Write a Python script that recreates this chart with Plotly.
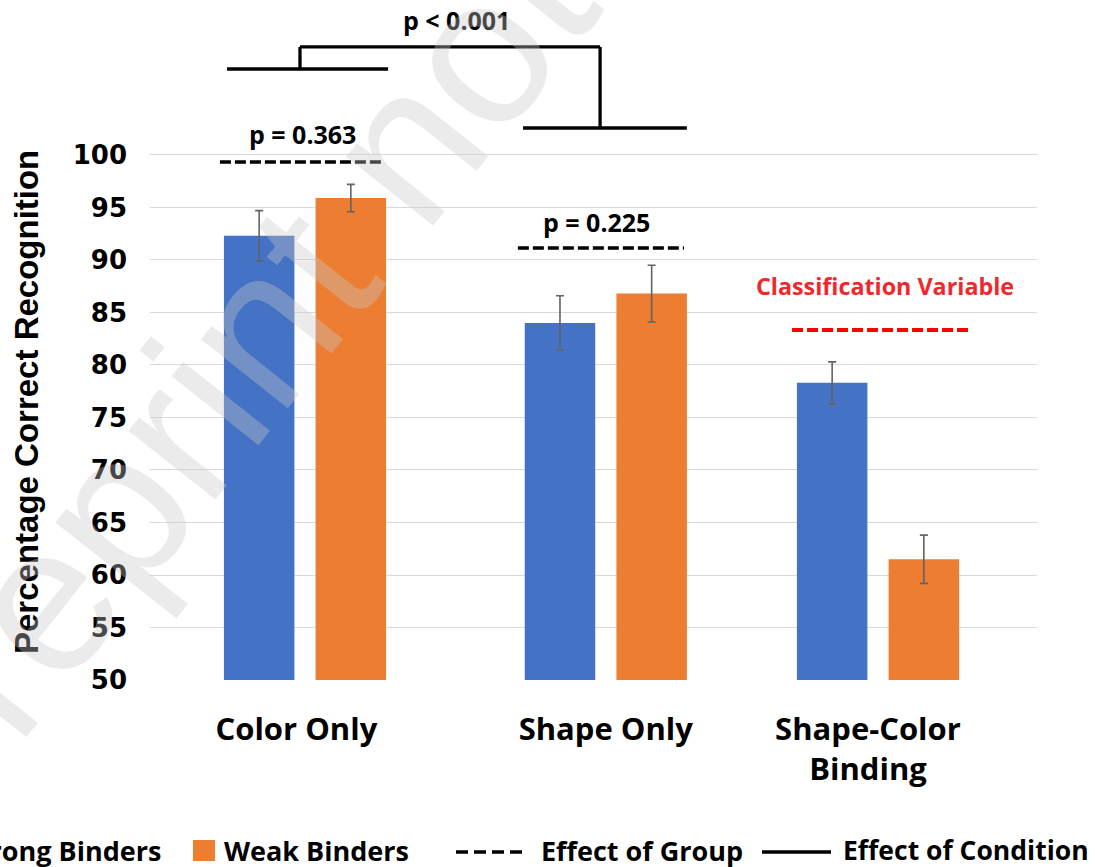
import plotly.graph_objects as go

# ---------------- data ----------------
categories = ["Color Only", "Shape Only", "Shape-Color<br>Binding"]
strong_binders = [92.3, 84.0, 78.3]
strong_err = [2.4, 2.6, 2.0]
weak_binders = [95.9, 86.8, 61.5]
weak_err = [1.3, 2.7, 2.3]
y_ticks = [50, 55, 60, 65, 70, 75, 80, 85, 90, 95, 100]

# ---------------- layout helpers ----------------
W, H = 1095, 867
ML, MR, MT, MB = 150, 58, 0, 187
group_pos = [0.0, 1.05, 2.0]          # category centres on the x axis
label_pos = [-0.03, 1.05, 1.965]      # where the category labels sit
X_RANGE = [-0.541, 2.555]
Y_RANGE = [50, 114.76]

BLUE = "#4472C4"
ORANGE = "#ED7D31"
ERR = "#636363"

def px_x(px):   # pixel -> paper x
    return (px - ML) / (W - ML - MR)

def px_y(py):   # pixel -> paper y
    return (H - MB - py) / (H - MB - MT)

fig = go.Figure()
fig.add_trace(go.Bar(
    name="Strong Binders", x=group_pos, y=strong_binders,
    width=0.246, offset=-0.283, marker=dict(color=BLUE, line=dict(width=0)),
    error_y=dict(type="data", array=strong_err, color=ERR, thickness=1.6, width=4),
    showlegend=False))
fig.add_trace(go.Bar(
    name="Weak Binders", x=group_pos, y=weak_binders,
    width=0.246, offset=0.037, marker=dict(color=ORANGE, line=dict(width=0)),
    error_y=dict(type="data", array=weak_err, color=ERR, thickness=1.6, width=4),
    showlegend=False))

shapes = []
def line(x0, y0, x1, y1, color="black", width=3.3, dash="solid", xref="x", yref="y"):
    shapes.append(dict(type="line", x0=x0, y0=y0, x1=x1, y1=y1, xref=xref, yref=yref,
                       line=dict(color=color, width=width, dash=dash)))

# Effect of condition bracket
line(-0.0175, 110.29, 1.03, 110.29)
line(-0.0175, 110.29, -0.0175, 108.19)
line(-0.272, 108.19, 0.29, 108.19)
line(1.03, 110.29, 1.03, 102.57)
line(0.761, 102.57, 1.333, 102.57)

# Effect of group (dashed)
line(-0.297, 99.33, 0.269, 99.33, dash="11px,4px", width=3.5)
line(0.743, 91.14, 1.323, 91.14, dash="11px,4px", width=3.5)
line(1.70, 83.33, 2.328, 83.33, color="#ff0000", dash="11px,4px", width=4)

annotations = []
def text(x, y, t, size=23, color="black", xref="x", yref="y", xanchor="center", **kw):
    d = dict(x=x, y=y, xref=xref, yref=yref, text=t, showarrow=False,
             xanchor=xanchor, yanchor="middle",
             font=dict(family="Open Sans", size=size, color=color, weight="bold"))
    d.update(kw)
    annotations.append(d)

text(0.53, 112.86, "p < 0.001", size=25)
text(-0.01, 102.0, "p = 0.363", size=25)
text(1.016, 93.6, "p = 0.225", size=25)
text(2.024, 87.52, "Classification Variable", size=23.3, color="#f0282d")

# y axis title
annotations.append(dict(x=px_x(26), y=px_y(402), xref="paper", yref="paper",
                        xanchor="center", yanchor="middle",
                        text="Percentage Correct Recognition", showarrow=False,
                        textangle=-90,
                        font=dict(family="Liberation Sans", size=33, color="black",
                                  weight="bold")))

# legend (drawn manually)
LY = 850
shapes.append(dict(type="rect", xref="paper", yref="paper",
                   x0=px_x(-62), x1=px_x(-40), y0=px_y(861), y1=px_y(840),
                   fillcolor=BLUE, line=dict(width=0)))
shapes.append(dict(type="rect", xref="paper", yref="paper",
                   x0=px_x(193), x1=px_x(215), y0=px_y(861), y1=px_y(840),
                   fillcolor=ORANGE, line=dict(width=0)))
line(px_x(456), px_y(852), px_x(528), px_y(852), dash="12px,6px", width=3.5,
     xref="paper", yref="paper")
line(px_x(762), px_y(852), px_x(831), px_y(852), width=3.5,
     xref="paper", yref="paper")
text(px_x(163), px_y(LY), "Strong Binders", size=27, xref="paper", yref="paper",
     xanchor="right")
text(px_x(222), px_y(LY), "Weak Binders", size=27, xref="paper", yref="paper",
     xanchor="left")
text(px_x(539), px_y(LY), "Effect of Group", size=27, xref="paper", yref="paper",
     xanchor="left")
text(px_x(841), px_y(LY), "Effect of Condition", size=26.5, xref="paper", yref="paper",
     xanchor="left")

# faint watermark
annotations.append(dict(x=px_x(640), y=px_y(-150), xref="paper", yref="paper",
                        xanchor="center", yanchor="middle",
                        text="Preprint not peer reviewed", showarrow=False,
                        textangle=-51.5,
                        font=dict(family="Liberation Sans", size=210,
                                  color="rgba(200,200,200,0.36)")))

fig.update_layout(
    width=W, height=H,
    margin=dict(l=ML, r=MR, t=MT, b=MB, autoexpand=False),
    plot_bgcolor="white", paper_bgcolor="white",
    barmode="overlay",
    showlegend=False,
    shapes=shapes,
    annotations=annotations,
    xaxis=dict(range=X_RANGE, tickvals=label_pos, ticktext=categories,
               showgrid=False, zeroline=False, showline=False, ticks="",
               ticklabelstandoff=28,
               tickfont=dict(family="Open Sans", size=31, color="black", weight="bold")),
    yaxis=dict(range=Y_RANGE, tickvals=y_ticks, showgrid=True, gridcolor="#d9d9d9",
               gridwidth=1.3, zeroline=False, showline=False, ticks="",
               ticklabelstandoff=22,
               tickfont=dict(family="DejaVu Sans", size=26, color="black", weight="bold")),
)

fig.write_html("out.html")
